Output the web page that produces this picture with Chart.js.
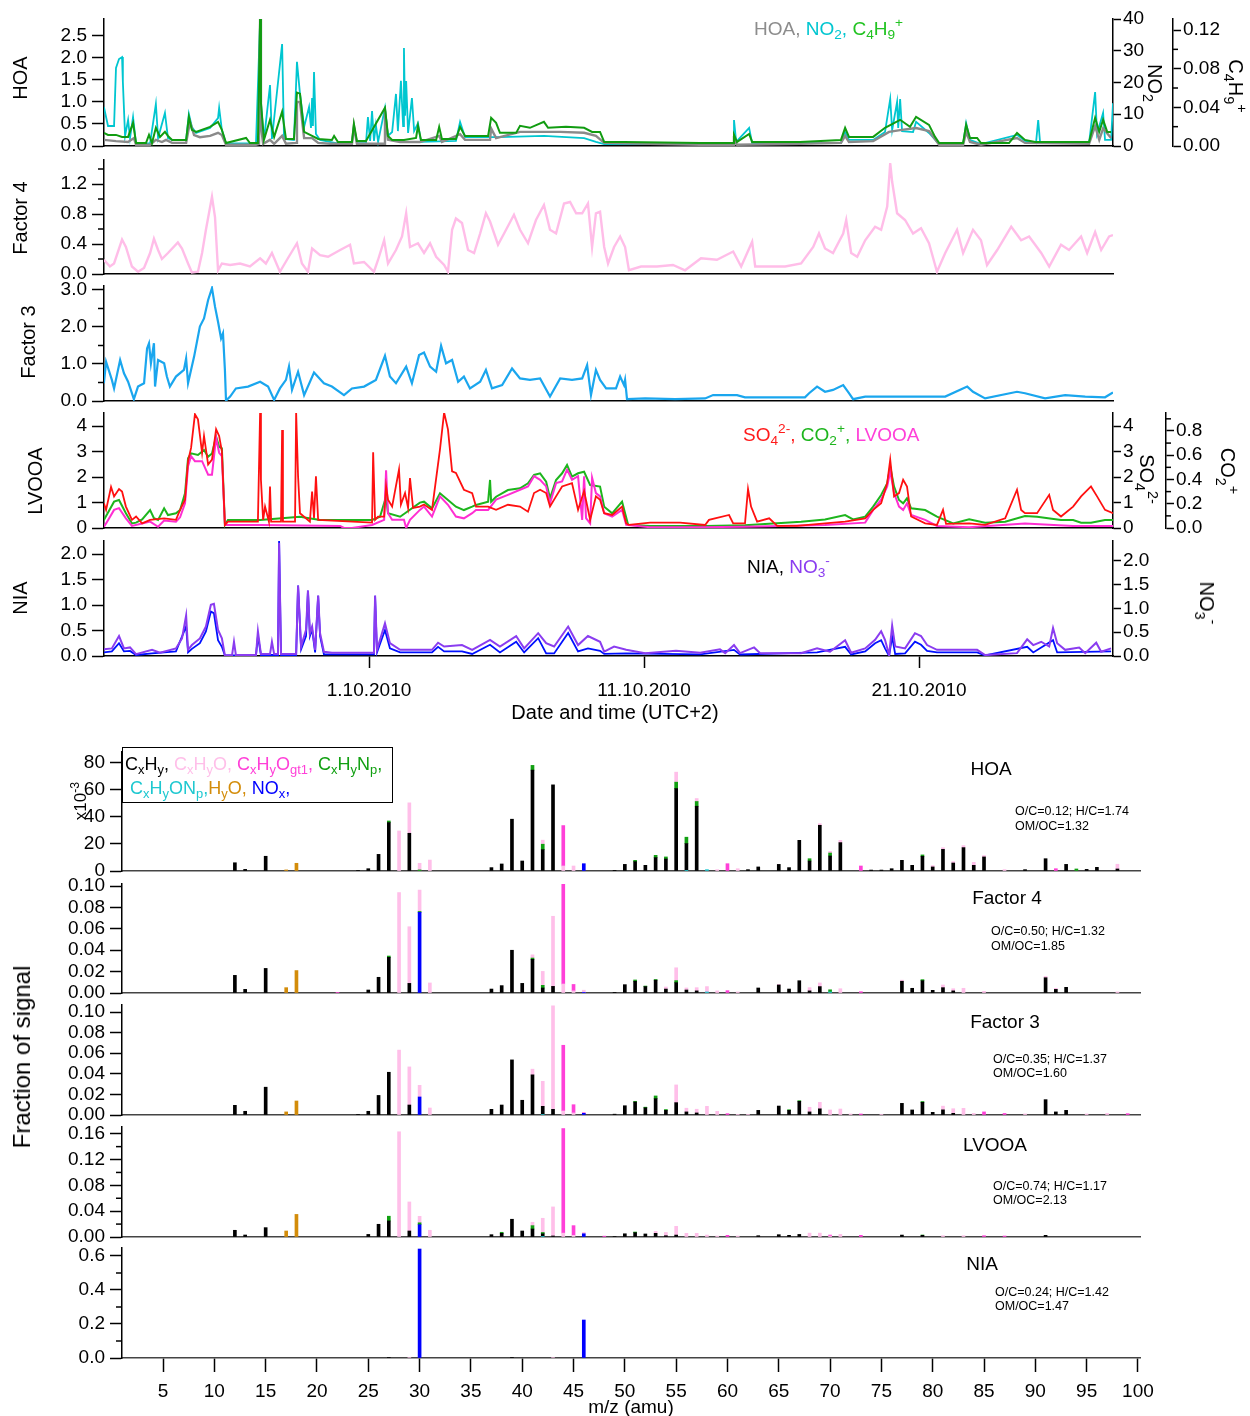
<!DOCTYPE html>
<html>
<head>
<meta charset="utf-8">
<script src="https://cdn.jsdelivr.net/npm/chart.js@4.4.1/dist/chart.umd.min.js"></script>
<style>
  body { margin: 0; background: #fff; }
  #page { position: relative; width: 1250px; height: 1416px; overflow: hidden;
          font-family: 'Liberation Sans', Arial, sans-serif; color: #000; }
  #charts canvas { position: absolute; left: 0; }
  .t { position: absolute; white-space: nowrap; line-height: 1; font-size: 19px; }
  .c { transform: translate(-50%, -50%); }
  .v { transform: translateY(-50%); }
  .l90 { transform: translate(-50%, -50%) rotate(-90deg); }
  .r90 { transform: translate(-50%, -50%) rotate(90deg); }
  sub, sup { font-size: 0.72em; line-height: 0; position: relative; vertical-align: baseline; }
  sub { top: 0.32em; }
  sup { top: -0.55em; }
  .box { position: absolute; left: 122px; top: 747px; width: 271px; height: 56px;
         box-sizing: border-box; border: 1.5px solid #000; background: #fff; }
</style>
</head>
<body>
<div id="page">
  <div id="charts"></div>

  <!-- time series: axis titles -->
  <div class="t l90" style="left:20px;top:78px;font-size:20px">HOA</div>
  <div class="t l90" style="left:20px;top:218px;font-size:20px">Factor 4</div>
  <div class="t l90" style="left:28px;top:342px;font-size:20px">Factor 3</div>
  <div class="t l90" style="left:35px;top:481px;font-size:20px">LVOOA</div>
  <div class="t l90" style="left:20px;top:598px;font-size:20px">NIA</div>

  <div class="t r90" style="left:1155px;top:83px;font-size:20px">NO<sub>2</sub></div>
  <div class="t r90" style="left:1236px;top:86px;font-size:20px">C<sub>4</sub>H<sub>9</sub><sup>+</sup></div>
  <div class="t r90" style="left:1147px;top:479px;font-size:20px">SO<sub>4</sub><sup>2-</sup></div>
  <div class="t r90" style="left:1228px;top:471px;font-size:20px">CO<sub>2</sub><sup>+</sup></div>
  <div class="t r90" style="left:1207px;top:603px;font-size:20px">NO<sub>3</sub><sup>-</sup></div>

  <div class="t v" style="left:754px;top:28px"><span style="color:#8c8c8c">HOA, </span><span style="color:#00c6d0">NO<sub>2</sub>, </span><span style="color:#22c322">C<sub>4</sub>H<sub>9</sub><sup>+</sup></span></div>
  <div class="t v" style="left:743px;top:434px"><span style="color:#ff1a1a">SO<sub>4</sub><sup>2-</sup>, </span><span style="color:#1db51d">CO<sub>2</sub><sup>+</sup>, </span><span style="color:#ff40d8">LVOOA</span></div>
  <div class="t v" style="left:747px;top:566px"><span>NIA, </span><span style="color:#8a3cf0">NO<sub>3</sub><sup>-</sup></span></div>

  <div class="t c" style="left:615px;top:712px;font-size:20px">Date and time (UTC+2)</div>

  <!-- mass spectra -->
  <div class="t l90" style="left:22px;top:1057px;font-size:24px">Fraction of signal</div>
  <div class="t l90" style="left:80px;top:801px;font-size:17px">x10<sup>-3</sup></div>

  <div class="box"></div>
  <div class="t v" style="left:125px;top:764px;font-size:18px"><span>C<sub>x</sub>H<sub>y</sub>, </span><span style="color:#ffbfe9">C<sub>x</sub>H<sub>y</sub>O, </span><span style="color:#ff40d8">C<sub>x</sub>H<sub>y</sub>O<sub>gt1</sub>, </span><span style="color:#12a012">C<sub>x</sub>H<sub>y</sub>N<sub>p</sub>,</span></div>
  <div class="t v" style="left:130px;top:788px;font-size:18px"><span style="color:#1ec8d0">C<sub>x</sub>H<sub>y</sub>ON<sub>p</sub>,</span><span style="color:#d38c0a">H<sub>y</sub>O,</span><span style="color:#0000ff"> NO<sub>x</sub>,</span></div>

  <div class="t c" style="left:991px;top:768px">HOA</div>
  <div class="t c" style="left:1007px;top:897px">Factor 4</div>
  <div class="t c" style="left:1005px;top:1021px">Factor 3</div>
  <div class="t c" style="left:995px;top:1144px">LVOOA</div>
  <div class="t c" style="left:982px;top:1263px">NIA</div>

  <div class="t v" style="left:1015px;top:811px;font-size:12.5px">O/C=0.12; H/C=1.74</div>
  <div class="t v" style="left:1015px;top:826px;font-size:12.5px">OM/OC=1.32</div>
  <div class="t v" style="left:991px;top:931px;font-size:12.5px">O/C=0.50; H/C=1.32</div>
  <div class="t v" style="left:991px;top:946px;font-size:12.5px">OM/OC=1.85</div>
  <div class="t v" style="left:993px;top:1059px;font-size:12.5px">O/C=0.35; H/C=1.37</div>
  <div class="t v" style="left:993px;top:1073px;font-size:12.5px">OM/OC=1.60</div>
  <div class="t v" style="left:993px;top:1186px;font-size:12.5px">O/C=0.74; H/C=1.17</div>
  <div class="t v" style="left:993px;top:1200px;font-size:12.5px">OM/OC=2.13</div>
  <div class="t v" style="left:995px;top:1292px;font-size:12.5px">O/C=0.24; H/C=1.42</div>
  <div class="t v" style="left:995px;top:1306px;font-size:12.5px">OM/OC=1.47</div>

  <div class="t c" style="left:631px;top:1406px">m/z (amu)</div>
</div>

<script>
// ---- time series: [day since 21.9.2010 00:00, value] ----
const dateTickDays = [10, 20, 30];
const dateTickLabels = ['1.10.2010', '11.10.2010', '21.10.2010'];

const hoa = [[0.36,0.14],[0.80,0.11],[1.24,0.09],[1.45,0.18],[1.53,0.03],[2.04,0.03],[2.25,0.14],[2.47,0.09],[2.62,0.14],[2.84,0.07],[3.35,0.07],[3.49,0.55],[3.64,0.25],[3.85,0.20],[4.22,0.23],[4.51,0.30],[4.65,0.25],[4.80,0.03],[5.89,0.03],[6.00,0.05],[6.04,2.90],[6.07,0.45],[6.15,0.05],[6.40,0.14],[6.55,0.05],[6.84,0.23],[6.98,0.05],[7.35,0.07],[7.38,1.00],[7.49,1.00],[7.64,0.18],[7.93,0.18],[8.15,0.07],[8.58,0.05],[9.38,0.05],[9.45,0.45],[9.56,0.05],[10.55,0.05],[10.58,0.80],[10.69,0.14],[11.13,0.09],[11.85,0.09],[12.55,0.23],[12.65,0.09],[13.31,0.27],[13.49,0.14],[14.40,0.14],[14.44,0.40],[14.62,0.18],[14.76,0.20],[15.49,0.32],[16.36,0.32],[16.95,0.32],[17.82,0.30],[18.25,0.23],[18.55,0.07],[19.27,0.06],[22.04,0.03],[23.24,0.03],[23.27,0.14],[23.38,0.03],[25.67,0.05],[27.16,0.07],[27.31,0.23],[27.45,0.09],[28.33,0.11],[28.91,0.32],[29.31,0.36],[29.89,0.41],[30.36,0.34],[30.73,0.03],[31.60,0.03],[31.71,0.32],[31.85,0.09],[32.25,0.03],[33.56,0.18],[33.85,0.07],[36.18,0.05],[36.40,0.45],[36.55,0.14],[36.69,0.40],[36.98,0.18]];

const no2 = [[0.36,12.3],[0.51,6.3],[0.73,6.3],[0.80,24.6],[0.91,27.4],[1.02,28.0],[1.05,20.2],[1.13,3.2],[1.24,8.2],[1.31,2.5],[1.42,9.1],[1.53,0.6],[2.04,0.9],[2.25,13.2],[2.33,2.5],[2.58,10.4],[2.69,2.5],[2.84,1.9],[3.35,1.9],[3.45,10.1],[3.56,6.0],[3.71,4.1],[4.22,5.7],[4.51,8.8],[4.55,12.0],[4.65,5.0],[4.80,0.8],[5.89,0.8],[6.04,39.4],[6.07,13.5],[6.18,1.9],[6.40,19.2],[6.47,2.2],[6.84,32.1],[6.91,2.2],[7.27,1.9],[7.38,26.5],[7.49,16.4],[7.64,6.0],[7.82,12.3],[7.89,5.7],[7.93,15.1],[7.96,6.3],[8.00,23.3],[8.07,3.8],[8.22,1.9],[8.80,0.9],[9.38,0.9],[9.45,6.3],[9.56,0.9],[9.89,0.9],[9.96,9.1],[10.04,1.6],[10.11,11.0],[10.18,1.6],[10.25,6.6],[10.33,1.3],[10.58,12.0],[10.69,3.2],[10.84,4.4],[10.98,16.4],[11.05,4.7],[11.16,20.5],[11.24,6.3],[11.27,30.9],[11.31,9.5],[11.35,20.5],[11.42,4.1],[11.56,15.1],[11.64,4.7],[11.78,7.2],[11.89,1.3],[13.16,1.6],[13.31,7.6],[13.49,2.8],[14.76,2.8],[16.36,3.2],[17.82,2.5],[18.25,1.3],[18.55,0.6],[22.04,0.6],[23.24,0.6],[23.27,8.2],[23.35,1.3],[23.82,5.7],[23.93,0.9],[27.16,0.9],[27.31,4.4],[27.45,1.9],[28.33,1.9],[28.76,4.4],[28.95,14.8],[29.02,5.0],[29.20,13.9],[29.24,5.7],[29.31,14.8],[29.38,4.7],[29.78,4.4],[29.89,7.6],[30.36,4.1],[30.73,0.6],[31.60,0.6],[31.71,7.2],[31.85,1.9],[32.25,0.6],[33.56,3.5],[33.85,1.6],[34.25,0.9],[34.33,8.2],[34.40,0.9],[36.18,0.9],[36.40,17.0],[36.47,3.8],[36.69,10.4],[36.76,1.9],[36.98,1.9],[37.05,13.5]];

const c4h9 = [[0.36,0.0136],[0.51,0.0115],[0.80,0.0115],[1.02,0.0094],[1.24,0.0094],[1.42,0.024],[1.53,0.0031],[1.89,0.0031],[2.00,0.0115],[2.11,0.0031],[2.25,0.0188],[2.40,0.0094],[2.58,0.0146],[2.69,0.0104],[2.84,0.0063],[3.35,0.0063],[3.45,0.0302],[3.56,0.0167],[3.71,0.0146],[4.22,0.0198],[4.51,0.025],[4.65,0.0167],[4.80,0.0031],[5.53,0.0083],[5.67,0.0031],[5.96,0.0031],[6.04,0.1335],[6.07,0.0448],[6.18,0.0063],[6.40,0.0271],[6.55,0.0094],[6.84,0.0355],[6.98,0.0073],[7.27,0.0073],[7.38,0.0553],[7.49,0.0542],[7.64,0.0146],[7.93,0.0104],[8.15,0.0073],[8.65,0.0063],[8.73,0.0104],[8.87,0.0042],[9.38,0.0042],[9.45,0.0229],[9.56,0.0052],[9.89,0.0052],[10.58,0.0396],[10.69,0.0104],[10.84,0.0063],[11.27,0.0063],[11.71,0.0083],[11.78,0.0209],[11.89,0.0063],[12.44,0.0063],[12.55,0.0198],[12.65,0.0073],[13.16,0.0073],[13.31,0.0198],[13.49,0.0104],[14.33,0.0104],[14.44,0.0292],[14.62,0.024],[14.76,0.0136],[15.35,0.0136],[15.49,0.0209],[15.85,0.0188],[16.36,0.025],[16.51,0.0188],[17.16,0.0198],[17.82,0.0188],[18.11,0.0146],[18.40,0.0146],[18.55,0.0042],[19.27,0.0042],[22.04,0.0031],[23.24,0.0031],[23.27,0.0115],[23.38,0.0042],[23.82,0.0125],[23.93,0.0042],[25.67,0.0042],[27.16,0.0063],[27.31,0.0188],[27.45,0.0094],[28.33,0.0094],[28.76,0.0188],[29.31,0.0271],[29.67,0.0198],[29.89,0.0302],[30.36,0.0219],[30.58,0.0094],[30.73,0.0031],[31.60,0.0031],[31.71,0.0219],[31.85,0.0083],[32.11,0.0083],[32.25,0.0031],[33.27,0.0031],[33.56,0.0136],[33.85,0.0063],[34.22,0.0042],[36.18,0.0042],[36.40,0.0292],[36.55,0.0146],[36.69,0.0271],[36.84,0.0146],[36.98,0.0146]];

const factor4 = [[0.36,0.19],[0.58,0.10],[0.73,0.14],[1.02,0.46],[1.16,0.36],[1.38,0.10],[1.60,0.03],[1.82,0.08],[2.04,0.28],[2.18,0.47],[2.33,0.32],[2.47,0.20],[2.69,0.28],[3.05,0.42],[3.20,0.34],[3.42,0.14],[3.56,0.02],[3.78,0.03],[3.93,0.28],[4.07,0.59],[4.29,1.03],[4.40,0.76],[4.51,0.05],[4.65,0.14],[4.95,0.12],[5.31,0.14],[5.67,0.10],[6.04,0.21],[6.25,0.14],[6.47,0.28],[6.76,0.03],[7.05,0.21],[7.38,0.41],[7.56,0.14],[7.78,0.03],[7.93,0.34],[8.22,0.25],[8.51,0.23],[8.95,0.32],[9.31,0.39],[9.45,0.14],[9.82,0.16],[10.18,0.03],[10.33,0.19],[10.55,0.45],[10.69,0.14],[10.98,0.32],[11.20,0.50],[11.35,0.81],[11.49,0.36],[11.78,0.41],[12.00,0.28],[12.22,0.41],[12.44,0.23],[12.73,0.12],[12.87,0.03],[13.02,0.59],[13.16,0.74],[13.38,0.68],[13.60,0.32],[13.82,0.28],[14.04,0.54],[14.25,0.81],[14.40,0.70],[14.69,0.39],[14.91,0.54],[15.27,0.79],[15.49,0.59],[15.78,0.41],[16.07,0.72],[16.36,0.92],[16.58,0.59],[16.80,0.54],[17.09,0.94],[17.31,0.96],[17.53,0.81],[17.75,0.81],[17.96,0.94],[18.11,0.36],[18.25,0.81],[18.40,0.83],[18.55,0.36],[18.69,0.14],[18.91,0.36],[19.13,0.50],[19.31,0.36],[19.45,0.05],[19.89,0.10],[20.47,0.10],[21.05,0.12],[21.49,0.05],[22.07,0.21],[22.65,0.19],[23.24,0.30],[23.53,0.10],[23.93,0.43],[24.04,0.10],[24.55,0.10],[25.13,0.10],[25.71,0.14],[26.15,0.36],[26.36,0.54],[26.58,0.34],[26.87,0.28],[27.24,0.54],[27.35,0.72],[27.53,0.28],[27.75,0.23],[28.04,0.45],[28.40,0.63],[28.62,0.59],[28.84,0.90],[28.95,1.48],[29.02,1.23],[29.20,0.81],[29.49,0.72],[29.78,0.54],[30.07,0.61],[30.36,0.41],[30.65,0.03],[30.95,0.28],[31.38,0.59],[31.60,0.28],[31.96,0.59],[32.25,0.45],[32.47,0.12],[32.84,0.32],[33.35,0.63],[33.71,0.45],[34.00,0.50],[34.44,0.28],[34.73,0.10],[35.16,0.39],[35.45,0.32],[35.89,0.50],[36.11,0.28],[36.40,0.56],[36.62,0.32],[36.91,0.50],[37.05,0.52]];

const factor3 = [[0.36,0.48],[0.44,1.06],[0.65,0.57],[0.73,0.34],[0.95,1.11],[1.09,0.75],[1.24,0.52],[1.45,0.05],[1.60,0.39],[1.82,0.48],[1.93,1.42],[2.00,1.56],[2.07,1.02],[2.18,1.56],[2.22,0.39],[2.33,1.11],[2.55,1.02],[2.65,0.66],[2.76,0.39],[2.98,0.66],[3.27,0.84],[3.35,1.15],[3.42,0.48],[3.64,1.20],[3.85,2.01],[4.00,2.23],[4.15,2.73],[4.29,3.05],[4.40,2.55],[4.51,2.14],[4.62,1.69],[4.69,1.83],[4.76,0.84],[4.80,0.01],[4.95,0.12],[5.16,0.34],[5.60,0.39],[6.04,0.52],[6.33,0.39],[6.55,0.03],[6.76,0.34],[6.98,0.57],[7.09,0.93],[7.20,0.30],[7.42,0.79],[7.64,0.16],[8.00,0.77],[8.36,0.48],[8.65,0.39],[9.09,0.16],[9.38,0.34],[9.82,0.39],[10.25,0.57],[10.58,1.22],[10.76,0.66],[10.98,0.48],[11.35,0.93],[11.56,0.48],[11.82,1.24],[12.00,1.31],[12.22,0.93],[12.44,0.79],[12.62,1.49],[12.80,1.02],[13.02,1.11],[13.24,0.52],[13.45,0.66],[13.67,0.34],[14.04,0.52],[14.25,0.84],[14.47,0.34],[14.84,0.43],[15.20,0.88],[15.49,0.61],[15.85,0.57],[16.22,0.61],[16.58,0.12],[16.95,0.61],[17.38,0.57],[17.75,0.61],[17.93,0.97],[18.07,0.16],[18.25,0.84],[18.40,0.57],[18.62,0.34],[18.98,0.34],[19.13,0.66],[19.27,0.43],[19.31,0.57],[19.38,0.05],[20.04,0.07],[21.13,0.05],[22.22,0.07],[22.51,0.16],[23.38,0.16],[23.67,0.10],[25.85,0.10],[26.00,0.21],[26.29,0.39],[26.58,0.25],[26.87,0.30],[27.24,0.43],[27.45,0.21],[27.60,0.05],[28.04,0.12],[30.95,0.12],[31.75,0.39],[31.96,0.25],[32.40,0.07],[33.56,0.25],[33.85,0.21],[34.58,0.07],[35.31,0.16],[36.04,0.12],[36.76,0.10],[37.05,0.23]];

const so4 = [[0.36,0.97],[0.44,0.71],[0.62,1.61],[0.73,1.24],[0.91,1.53],[1.02,1.43],[1.16,0.84],[1.38,0.32],[1.53,0.45],[1.75,0.18],[2.04,0.32],[2.55,0.38],[2.98,0.32],[3.13,0.71],[3.31,1.11],[3.42,2.62],[3.53,3.14],[3.67,4.46],[3.78,4.26],[3.93,2.95],[4.00,3.61],[4.15,2.49],[4.29,2.68],[4.44,3.87],[4.55,3.61],[4.65,3.01],[4.76,0.12],[4.87,0.25],[5.96,0.25],[6.04,4.53],[6.07,1.89],[6.15,0.32],[6.22,0.84],[6.36,0.25],[6.40,1.63],[6.44,0.25],[6.80,0.25],[6.84,3.84],[6.87,0.25],[7.31,0.25],[7.35,4.53],[7.42,2.03],[7.49,0.58],[7.85,0.25],[7.93,1.43],[8.00,0.39],[8.07,2.03],[8.15,0.32],[10.11,0.21],[10.15,2.97],[10.22,0.32],[10.33,0.45],[10.55,0.45],[10.62,1.63],[10.69,1.11],[10.84,0.84],[11.09,2.29],[11.16,0.92],[11.31,1.37],[11.42,0.79],[11.49,1.96],[11.60,0.79],[11.85,0.84],[12.00,0.92],[12.29,0.71],[12.58,3.08],[12.73,4.53],[12.87,3.87],[13.02,2.22],[13.16,2.16],[13.45,1.50],[13.75,1.37],[13.89,0.84],[14.33,0.84],[14.62,0.71],[15.05,0.91],[15.49,0.84],[15.78,0.64],[16.00,1.37],[16.22,1.50],[16.44,1.37],[16.58,0.84],[16.80,1.24],[17.02,1.63],[17.38,1.76],[17.60,0.71],[17.82,1.45],[18.04,0.32],[18.25,1.24],[18.40,1.11],[18.55,0.58],[18.84,0.51],[19.20,0.84],[19.35,0.18],[19.45,0.12],[20.22,0.21],[21.31,0.21],[22.22,0.12],[22.36,0.32],[23.09,0.51],[23.24,0.18],[23.67,0.18],[23.78,1.53],[23.89,0.84],[24.11,0.25],[24.55,0.38],[24.84,0.08],[25.56,0.08],[26.58,0.18],[27.31,0.25],[28.04,0.38],[28.33,0.71],[28.62,0.97],[28.84,1.76],[28.95,2.68],[29.09,1.24],[29.27,1.37],[29.42,1.89],[29.56,1.63],[29.71,0.45],[30.22,0.18],[30.65,0.12],[30.87,0.71],[30.98,0.16],[31.82,0.18],[32.40,0.12],[33.13,0.38],[33.56,1.50],[33.71,0.71],[33.85,0.58],[34.29,0.58],[34.73,1.30],[34.87,0.71],[35.16,0.45],[35.60,0.84],[35.89,1.24],[36.25,1.63],[36.47,1.24],[36.76,0.71],[37.05,0.58]];

const co2 = [[0.36,0.066],[0.73,0.217],[0.91,0.231],[1.16,0.121],[1.38,0.038],[1.53,0.044],[1.75,0.071],[2.04,0.148],[2.18,0.080],[2.33,0.066],[2.55,0.162],[2.69,0.107],[2.98,0.121],[3.13,0.148],[3.31,0.286],[3.42,0.574],[3.53,0.615],[3.78,0.602],[4.00,0.643],[4.15,0.588],[4.29,0.615],[4.44,0.753],[4.55,0.670],[4.65,0.657],[4.76,0.025],[4.87,0.066],[6.04,0.066],[7.49,0.093],[8.22,0.066],[10.11,0.066],[10.40,0.093],[10.62,0.258],[10.69,0.121],[11.13,0.093],[11.85,0.209],[12.00,0.217],[12.29,0.162],[12.58,0.286],[12.87,0.231],[13.16,0.176],[13.45,0.148],[13.75,0.176],[13.89,0.190],[14.33,0.217],[14.40,0.396],[14.44,0.217],[14.62,0.258],[15.05,0.313],[15.49,0.327],[15.78,0.368],[16.00,0.437],[16.22,0.451],[16.44,0.382],[16.58,0.245],[16.80,0.396],[17.02,0.451],[17.20,0.519],[17.38,0.423],[17.60,0.451],[17.82,0.464],[18.04,0.354],[18.40,0.341],[18.55,0.176],[18.84,0.121],[19.20,0.217],[19.31,0.121],[19.42,0.027],[20.22,0.016],[22.22,0.016],[23.67,0.022],[25.71,0.052],[26.58,0.071],[27.31,0.107],[27.60,0.071],[28.04,0.093],[28.33,0.176],[28.62,0.272],[28.84,0.368],[28.95,0.505],[29.09,0.341],[29.27,0.231],[29.42,0.203],[29.56,0.245],[29.71,0.162],[30.22,0.148],[30.65,0.093],[31.24,0.038],[31.82,0.071],[32.40,0.044],[33.13,0.052],[33.85,0.099],[34.29,0.093],[35.16,0.066],[35.60,0.066],[35.89,0.044],[36.25,0.044],[36.76,0.066],[37.05,0.066]];

const lvooa = [[0.36,0.05],[0.44,0.18],[0.73,0.71],[0.91,0.78],[1.16,0.38],[1.38,0.08],[1.75,0.18],[2.04,0.25],[2.33,0.05],[2.55,0.29],[2.98,0.25],[3.13,0.42],[3.31,0.97],[3.42,2.42],[3.53,2.82],[3.67,2.62],[3.93,2.62],[4.15,2.09],[4.29,2.09],[4.44,3.54],[4.55,2.95],[4.65,2.82],[4.76,0.12],[6.04,0.12],[8.95,0.08],[9.09,0.0],[9.38,0.0],[10.11,0.12],[10.55,0.32],[10.62,2.26],[10.69,0.58],[10.84,0.32],[11.27,0.32],[11.35,0.0],[11.49,0.32],[11.85,0.71],[12.00,0.84],[12.29,0.45],[12.58,1.24],[12.87,0.91],[13.16,0.45],[13.45,0.38],[13.75,0.58],[13.89,0.71],[14.33,0.71],[14.62,1.11],[15.05,1.30],[15.49,1.50],[15.78,1.63],[16.00,2.03],[16.22,1.89],[16.44,1.63],[16.58,0.97],[16.80,1.76],[17.02,1.83],[17.20,2.29],[17.38,1.89],[17.60,2.03],[17.75,0.32],[17.82,2.03],[17.89,0.39],[18.04,0.18],[18.11,1.97],[18.25,1.37],[18.40,1.24],[18.55,0.58],[18.84,0.45],[19.20,0.71],[19.35,0.12],[20.22,0.03],[22.04,0.03],[23.67,0.05],[26.58,0.12],[28.04,0.21],[28.33,0.71],[28.62,1.11],[28.84,1.63],[28.95,2.22],[29.09,1.37],[29.27,0.84],[29.42,0.71],[29.56,0.97],[29.71,0.51],[30.22,0.32],[30.65,0.08],[31.82,0.03],[33.85,0.18],[35.60,0.08],[37.05,0.08]];

const nia = [[0.36,0.07],[0.65,0.09],[0.91,0.25],[1.09,0.09],[1.31,0.10],[1.53,0.02],[2.11,0.05],[2.98,0.09],[3.35,0.58],[3.42,0.07],[3.56,0.14],[3.85,0.25],[4.07,0.48],[4.25,0.87],[4.36,0.84],[4.51,0.31],[4.65,0.18],[4.76,0.01],[5.89,0.01],[5.96,0.39],[6.07,0.02],[6.69,0.02],[6.73,2.27],[6.80,0.02],[7.35,0.02],[7.42,1.38],[7.53,0.13],[7.71,0.39],[7.78,1.28],[7.85,0.39],[7.93,0.52],[8.04,0.07],[8.15,1.18],[8.22,0.39],[8.36,0.03],[8.65,0.03],[10.18,0.03],[10.22,1.18],[10.29,0.07],[10.58,0.51],[10.76,0.15],[11.13,0.07],[12.29,0.07],[12.51,0.18],[12.73,0.09],[13.38,0.09],[13.75,0.04],[14.40,0.22],[14.76,0.07],[15.35,0.28],[15.64,0.07],[16.15,0.35],[16.44,0.05],[16.73,0.05],[17.24,0.45],[17.60,0.09],[17.96,0.15],[18.40,0.10],[18.55,0.04],[19.35,0.05],[22.04,0.03],[23.27,0.12],[23.49,0.03],[26.29,0.07],[27.31,0.18],[27.53,0.03],[28.04,0.09],[28.40,0.25],[28.62,0.31],[28.76,0.15],[28.91,0.0],[29.02,0.38],[29.13,0.04],[29.49,0.05],[29.85,0.28],[30.07,0.22],[30.29,0.10],[30.65,0.07],[32.11,0.07],[32.40,0.01],[33.93,0.18],[34.15,0.07],[34.87,0.31],[35.02,0.07],[36.98,0.09]];

const no3 = [[0.36,0.14],[0.65,0.16],[0.91,0.42],[1.09,0.16],[1.31,0.18],[1.53,0.04],[2.11,0.13],[2.40,0.07],[2.98,0.16],[3.20,0.37],[3.35,0.85],[3.42,0.13],[3.56,0.23],[3.85,0.37],[4.07,0.62],[4.25,1.08],[4.36,1.10],[4.51,0.55],[4.65,0.37],[4.76,0.01],[5.02,0.02],[5.09,0.30],[5.16,0.02],[5.89,0.02],[5.96,0.52],[6.07,0.04],[6.40,0.04],[6.47,0.30],[6.55,0.04],[6.69,0.04],[6.73,2.38],[6.80,0.04],[7.35,0.04],[7.42,1.48],[7.53,0.20],[7.71,0.55],[7.78,1.38],[7.85,0.48],[7.93,0.62],[8.04,0.13],[8.15,1.27],[8.22,0.48],[8.36,0.09],[8.65,0.07],[10.18,0.07],[10.22,1.27],[10.29,0.13],[10.58,0.69],[10.76,0.27],[11.13,0.13],[12.29,0.13],[12.51,0.28],[12.73,0.20],[13.38,0.23],[13.75,0.13],[14.40,0.34],[14.76,0.20],[15.35,0.42],[15.64,0.16],[16.15,0.48],[16.44,0.27],[16.73,0.20],[17.24,0.62],[17.60,0.23],[17.96,0.42],[18.40,0.30],[18.55,0.09],[18.91,0.20],[19.35,0.13],[20.04,0.06],[21.16,0.11],[22.04,0.07],[22.76,0.14],[22.95,0.06],[23.27,0.23],[23.49,0.06],[24.00,0.18],[24.22,0.06],[25.71,0.06],[26.29,0.16],[26.76,0.09],[27.31,0.33],[27.53,0.07],[28.04,0.16],[28.40,0.34],[28.62,0.52],[28.76,0.34],[28.91,0.02],[29.02,0.64],[29.13,0.20],[29.49,0.16],[29.85,0.48],[30.07,0.42],[30.29,0.23],[30.65,0.13],[32.11,0.13],[32.40,0.02],[33.56,0.06],[33.93,0.35],[34.15,0.23],[34.44,0.30],[34.73,0.20],[34.87,0.59],[35.02,0.27],[35.31,0.13],[35.82,0.18],[36.04,0.06],[36.44,0.28],[36.62,0.09],[36.98,0.16]];

// ---- mass spectra: [m/z, fraction of signal] per ion family ----
const mzTicks = [5,10,15,20,25,30,35,40,45,50,55,60,65,70,75,80,85,90,95,100];

const hoaCH = [[12,.0061],[13,.0012],[15,.0109],[24,.0003],[25,.0017],[26,.0123],[27,.0358],[29,.0279],[37,.0025],[38,.0052],[39,.0383],[40,.0074],[41,.0746],[42,.0158],[43,.0637],[49,.0005],[50,.0049],[51,.0069],[52,.0042],[53,.0099],[54,.0089],[55,.061],[56,.0198],[57,.0479],[62,.001],[63,.003],[65,.0049],[66,.0025],[67,.0227],[68,.0074],[69,.0338],[70,.0111],[71,.021],[74,.0007],[75,.0007],[76,.0017],[77,.0079],[78,.0042],[79,.0109],[80,.003],[81,.016],[82,.0059],[83,.0173],[84,.0042],[85,.0104],[89,.001],[91,.0091],[93,.0049],[95,.0012],[96,.0027],[98,.0015]];
const hoaCHO = [[28,.0296],[29,.0225],[30,.0049],[31,.0081],[42,.003],[44,.0037],[45,.0037],[55,.0074],[57,.0022],[59,.001],[61,.0017],[69,.0012],[70,.0012],[71,.0017],[80,.001],[81,.0012],[82,.001],[83,.0015],[84,.0022],[85,.001],[87,.001],[98,.0035]];
const hoaCHOgt1 = [[44,.0299],[60,.0054],[73,.0037],[92,.0017]];
const hoaCHN = [[27,.0012],[30,.0008],[41,.0035],[42,.004],[51,.001],[53,.0017],[54,.0015],[55,.0047],[56,.0047],[57,.0035],[68,.0017],[70,.0022],[79,.001],[94,.0015]];
const hoaCHON = [[56,.0005],[58,.001]];
const hoaHO = [[17,.0008],[18,.0057]];
const hoaNOx = [[46,.0054]];

const f4CH = [[12,.0165],[13,.0034],[15,.023],[25,.0028],[26,.0147],[27,.0334],[29,.009],[37,.0037],[38,.0069],[39,.040],[40,.009],[41,.0315],[42,.0047],[43,.0062],[49,.0006],[50,.0078],[51,.011],[52,.006],[53,.012],[54,.0037],[55,.0097],[56,.0028],[57,.002],[63,.0047],[65,.0075],[66,.0037],[67,.0115],[68,.002],[69,.006],[77,.011],[78,.0044],[79,.0115],[80,.0025],[81,.005],[82,.002],[91,.0143],[92,.0034],[93,.0053]];
const f4CHO = [[28,.094],[29,.053],[30,.020],[31,.0094],[41,.003],[42,.013],[43,.0656],[44,.0084],[45,.002],[46,.002],[54,.0019],[55,.012],[56,.0019],[57,.003],[58,.005],[59,.002],[61,.001],[65,.0006],[68,.003],[69,.0034],[71,.004],[77,.001],[81,.0025],[82,.002],[83,.0044],[85,.0015],[91,.0012],[92,.001],[98,.001]];
const f4CHOgt1 = [[22,.0006],[44,.094],[45,.006],[60,.0022],[73,.0012]];
const f4CHN = [[27,.0012],[30,.0008],[41,.0012],[42,.0025],[51,.0012],[52,.0005],[53,.0006],[55,.0019],[70,.002],[79,.001]];
const f4CHON = [[58,.001],[70,.001]];
const f4HO = [[17,.005],[18,.021]];
const f4NOx = [[30,.0755],[46,.0006]];

const f3CH = [[12,.0094],[13,.0036],[15,.027],[24,.0006],[25,.0036],[26,.019],[27,.0415],[29,.0097],[37,.0055],[38,.0097],[39,.0535],[40,.0143],[41,.039],[42,.0078],[43,.0055],[49,.0008],[50,.009],[51,.0126],[52,.007],[53,.0159],[54,.0045],[55,.012],[56,.003],[57,.002],[63,.0045],[65,.0087],[66,.0045],[67,.0133],[68,.003],[69,.006],[77,.0113],[78,.0049],[79,.0123],[80,.0026],[81,.005],[82,.0016],[91,.0149],[92,.003],[93,.0045]];
const f3CHO = [[28,.063],[29,.037],[30,.0113],[31,.0068],[41,.0055],[42,.0243],[43,.1005],[44,.0039],[45,.002],[55,.0172],[56,.0036],[57,.0036],[58,.0084],[59,.0036],[61,.0006],[62,.0006],[68,.0045],[69,.0063],[70,.0049],[71,.0058],[72,.001],[75,.0006],[81,.0036],[82,.0045],[83,.0065],[84,.0015],[89,.001],[95,.001],[97,.0015]];
const f3CHOgt1 = [[44,.0638],[45,.008],[46,.0006],[60,.0013],[73,.001],[85,.003],[87,.0015],[99,.0013]];
const f3CHN = [[51,.0006],[52,.0006],[53,.0026],[54,.0008],[66,.0006],[67,.0006],[79,.0008]];
const f3CHON = [[42,.0006]];
const f3HO = [[17,.003],[18,.0136]];
const f3NOx = [[30,.0175],[46,.0016]];

const lvCH = [[12,.0104],[13,.0031],[15,.0145],[25,.004],[26,.0197],[27,.0249],[29,.0093],[37,.0036],[38,.0057],[39,.0275],[40,.0093],[41,.0124],[42,.004],[43,.0016],[49,.0008],[50,.005],[51,.0067],[52,.0047],[53,.0057],[54,.002],[55,.003],[63,.002],[65,.0036],[66,.0026],[67,.004],[77,.003],[79,.0026],[91,.0026]];
const lvCHO = [[28,.163],[29,.045],[30,.010],[31,.0104],[41,.0052],[42,.022],[43,.045],[44,.006],[45,.0026],[46,.002],[53,.003],[54,.005],[55,.0135],[56,.0057],[57,.0057],[58,.003],[59,.0015],[61,.0015],[68,.006],[69,.006],[70,.0015],[71,.004],[81,.002],[83,.002]];
const lvCHOgt1 = [[44,.162],[45,.015],[48,.0013],[60,.0026],[70,.0015],[73,.0026],[85,.002],[87,.0015]];
const lvCHN = [[27,.0073],[30,.003],[38,.0016],[41,.0052],[42,.002],[51,.001],[79,.0005]];
const lvCHON = [[42,.001]];
const lvHO = [[17,.0093],[18,.035]];
const lvNOx = [[30,.019],[46,.005]];

const niaCH = [[27,.002],[39,.002]];
const niaCHO = [[29,.003],[43,.003]];
const niaCHOgt1 = [];
const niaCHN = [];
const niaCHON = [];
const niaHO = [];
const niaNOx = [[30,.641],[46,.2235]];

// stacking order, bottom to top: CHON, CH, NOx, CHN, CHO, CHOgt1, HO
const stackColors = ['#1ec8d0', '#000000', '#0000ff', '#12a012', '#ffbfe9', '#ff40d8', '#d38c0a'];

// ---------------------------------------------------------------
Chart.defaults.font.family = "'Liberation Sans', Arial, sans-serif";
Chart.defaults.font.size = 19;
Chart.defaults.color = '#000';

const PAD = 18;
const tMin = 0.364, tMax = 37.05;
const holder = document.getElementById('charts');

// short ticks between the labelled ones
const minorTicks = {
  id: 'minorTicks',
  afterDraw(chart, args, opts) {
    const ctx = chart.ctx;
    ctx.save();
    ctx.strokeStyle = '#000';
    ctx.lineWidth = 1.5;
    (opts.list || []).forEach(m => {
      const s = chart.scales[m.id];
      const n = Math.floor(s.max / m.step + 1e-6);
      for (let i = 1; i <= n; i += 2) {
        const y = s.getPixelForValue(i * m.step);
        const x0 = s.position === 'left' ? s.right : s.left;
        const x1 = s.position === 'left' ? x0 - m.len : x0 + m.len;
        ctx.beginPath();
        ctx.moveTo(x0, y);
        ctx.lineTo(x1, y);
        ctx.stroke();
      }
    });
    ctx.restore();
  }
};

function newCanvas(top, height) {
  const c = document.createElement('canvas');
  c.width = 1250;
  c.height = height;
  c.style.top = top + 'px';
  holder.appendChild(c);
  return c;
}

function fixTicks(values) {
  return scale => { scale.ticks = values.map(v => ({ value: v })); };
}

function yAxis(pos, max, ticks, fmt, width, len, weight) {
  return {
    type: 'linear', position: pos, min: 0, max: max, weight: weight || 0,
    afterBuildTicks: fixTicks(ticks),
    afterFit: s => { s.width = width; },
    ticks: { callback: fmt, padding: pos === 'left' ? 5 : 2, autoSkip: false },
    grid: { drawOnChartArea: false, drawTicks: true, tickLength: len, tickColor: '#000', tickWidth: 1.5 },
    border: { display: true, color: '#000', width: 1.5 },
  };
}

function xHidden(min, max, dash, color) {
  return {
    type: 'linear', min: min, max: max, offset: false,
    afterFit: s => { s.height = 0; },
    ticks: { display: false },
    grid: { display: false, drawTicks: false, offset: false },
    border: { display: true, color: color || '#000', width: 1.5, dash: dash || [] },
  };
}

function xLabelled(min, max, vals, fmt, len, pad, dash, color) {
  return {
    type: 'linear', min: min, max: max, offset: false,
    afterBuildTicks: fixTicks(vals),
    afterFit: s => { s.height = 44; },
    ticks: { callback: fmt, padding: pad, autoSkip: false, maxRotation: 0 },
    grid: { drawOnChartArea: false, drawTicks: true, tickLength: len, tickColor: '#000', tickWidth: 1.5, offset: false },
    border: { display: true, color: color || '#000', width: 1.5, dash: dash || [] },
  };
}

const f1 = v => v.toFixed(1);
const f2 = v => v.toFixed(2);
const f0 = v => v.toFixed(0);

function baseOptions(scales, padRight, withX, minor) {
  return {
    responsive: false, animation: false, events: [],
    layout: { padding: { top: PAD, bottom: withX ? 2 : PAD, left: 0, right: padRight } },
    scales: scales,
    plugins: { legend: { display: false }, tooltip: { enabled: false }, minorTicks: { list: minor || [] } },
  };
}

// time series panel
function timePanel(p) {
  const cv = newCanvas(p.top - PAD, p.bottom - p.top + PAD + (p.withX ? 46 : PAD));
  const scales = {
    x: p.withX
      ? xLabelled(tMin, tMax, dateTickDays, (v, i) => dateTickLabels[i], 12, 11)
      : xHidden(tMin, tMax),
    y: yAxis('left', p.yMax, p.yTicks, p.yFmt, 104, 12),
  };
  let used = 0;
  (p.right || []).forEach((r, i) => {
    scales[r.id] = yAxis('right', r.max, r.ticks, r.fmt, r.width, 8, i);
    used += r.width;
  });
  new Chart(cv, {
    type: 'line',
    data: {
      datasets: p.series.map(s => ({
        data: s.data, borderColor: s.color, borderWidth: s.w || 1.6,
        yAxisID: s.axis || 'y', pointRadius: 0, tension: 0, fill: false,
      })),
    },
    options: baseOptions(scales, 137 - used, p.withX, p.minor),
    plugins: [minorTicks],
  });
}

// mass spectrum panel
function specPanel(p) {
  const cv = newCanvas(p.top - PAD, p.bottom - p.top + PAD + (p.withX ? 46 : PAD));
  const scales = {
    x: p.withX
      ? xLabelled(1.0, 100.2, mzTicks, f0, 14, 8, [4, 2], '#444')
      : xHidden(1.0, 100.2, [4, 2], '#444'),
    y: yAxis('left', p.yMax, p.yTicks, p.yFmt, 122, 12),
  };
  scales.x.stacked = true;
  scales.y.stacked = true;
  new Chart(cv, {
    type: 'bar',
    data: {
      datasets: p.bars.map((b, i) => ({
        data: b.map(d => ({ x: d[0], y: d[1] })),
        backgroundColor: stackColors[i], borderWidth: 0, barThickness: 3,
      })),
    },
    options: baseOptions(scales, 110, p.withX, p.minor),
    plugins: [minorTicks],
  });
}

// ---- top: time series ----
timePanel({
  top: 19, bottom: 146, yMax: 2.886, yTicks: [0, 0.5, 1, 1.5, 2, 2.5], yFmt: f1,
  right: [
    { id: 'yNO2', max: 40, ticks: [0, 10, 20, 30, 40], fmt: f0, width: 60 },
    { id: 'yC4', max: 0.1314, ticks: [0, 0.04, 0.08, 0.12], fmt: f2, width: 77 },
  ],
  minor: [{ id: 'yC4', step: 0.02, len: 5 }],
  series: [
    { data: c4h9, color: '#119c11', axis: 'yC4', w: 2 },
    { data: hoa, color: '#8a8a8a', w: 2.4 },
    { data: no2, color: '#00c6d0', axis: 'yNO2', w: 1.8 },
  ],
});

timePanel({
  top: 160, bottom: 274, yMax: 1.52, yTicks: [0, 0.4, 0.8, 1.2], yFmt: f1,
  minor: [{ id: 'y', step: 0.2, len: 6 }],
  series: [{ data: factor4, color: '#ffbde8', w: 2.4 }],
});

timePanel({
  top: 286, bottom: 401, yMax: 3.108, yTicks: [0, 1, 2, 3], yFmt: f1,
  minor: [{ id: 'y', step: 0.5, len: 6 }],
  series: [{ data: factor3, color: '#1aa6ee', w: 2.2 }],
});

timePanel({
  top: 413, bottom: 528, yMax: 4.51, yTicks: [0, 1, 2, 3, 4], yFmt: f0,
  right: [
    { id: 'ySO4', max: 4.51, ticks: [0, 1, 2, 3, 4], fmt: f0, width: 53 },
    { id: 'yCO2', max: 0.948, ticks: [0, 0.2, 0.4, 0.6, 0.8], fmt: f1, width: 84 },
  ],
  minor: [{ id: 'yCO2', step: 0.1, len: 5 }],
  series: [
    { data: so4, color: '#ff1010', axis: 'ySO4', w: 1.8 },
    { data: lvooa, color: '#ff2ed2', w: 2 },
    { data: co2, color: '#1db51d', axis: 'yCO2', w: 2 },
  ],
});

timePanel({
  top: 541, bottom: 656, yMax: 2.255, yTicks: [0, 0.5, 1, 1.5, 2], yFmt: f1, withX: true,
  right: [{ id: 'yNO3', max: 2.42, ticks: [0, 0.5, 1, 1.5, 2], fmt: f1, width: 137 }],
  series: [
    { data: no3, color: '#8a3cf0', axis: 'yNO3', w: 2 },
    { data: nia, color: '#0010ff', w: 1.8 },
  ],
});

// ---- bottom: mass spectra ----
specPanel({
  top: 752, bottom: 871, yMax: 0.088, yTicks: [0, 0.02, 0.04, 0.06, 0.08], yFmt: v => Math.round(v * 1000),
  bars: [hoaCHON, hoaCH, hoaNOx, hoaCHN, hoaCHO, hoaCHOgt1, hoaHO],
});
specPanel({
  top: 884, bottom: 993, yMax: 0.102, yTicks: [0, 0.02, 0.04, 0.06, 0.08, 0.10], yFmt: f2,
  bars: [f4CHON, f4CH, f4NOx, f4CHN, f4CHO, f4CHOgt1, f4HO],
});
specPanel({
  top: 1005, bottom: 1115, yMax: 0.1068, yTicks: [0, 0.02, 0.04, 0.06, 0.08, 0.10], yFmt: f2,
  bars: [f3CHON, f3CH, f3NOx, f3CHN, f3CHO, f3CHOgt1, f3HO],
});
specPanel({
  top: 1127, bottom: 1237, yMax: 0.1704, yTicks: [0, 0.04, 0.08, 0.12, 0.16], yFmt: f2,
  minor: [{ id: 'y', step: 0.02, len: 6 }],
  bars: [lvCHON, lvCH, lvNOx, lvCHN, lvCHO, lvCHOgt1, lvHO],
});
specPanel({
  top: 1248, bottom: 1358, yMax: 0.647, yTicks: [0, 0.2, 0.4, 0.6], yFmt: f1, withX: true,
  minor: [{ id: 'y', step: 0.1, len: 6 }],
  bars: [niaCHON, niaCH, niaNOx, niaCHN, niaCHO, niaCHOgt1, niaHO],
});
</script>
</body>
</html>
